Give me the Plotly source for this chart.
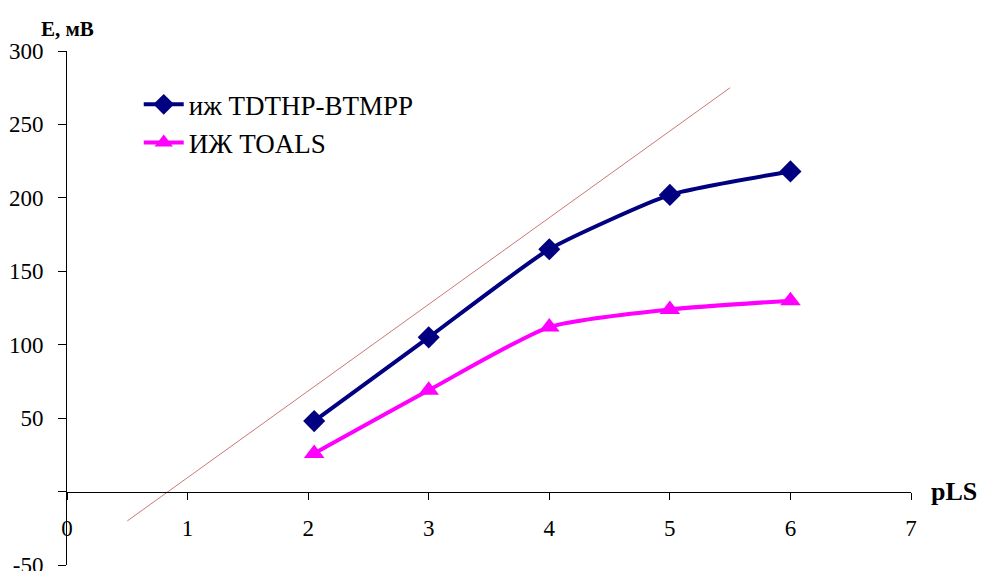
import plotly.graph_objects as go

# Data
pls_a = [2.05, 3, 4, 5, 6]
e_a = [48, 105, 165, 202, 218]
name_a = "иж TDTHP-BTMPP"

pls_b = [2.05, 3, 4, 5, 6]
e_b = [26, 69, 112, 124, 130]
name_b = "ИЖ TOALS"

ref_x = [0.5, 5.5]
ref_y = [-20, 275]

x_ticks = [0, 1, 2, 3, 4, 5, 6, 7]
y_ticks = [-50, 0, 50, 100, 150, 200, 250, 300]
y_ticktext = ["-50", "", "50", "100", "150", "200", "250", "300"]

FONT = "Liberation Serif"

fig = go.Figure()
fig.add_trace(go.Scatter(x=ref_x, y=ref_y, mode="lines",
                         line=dict(color="#C87878", width=1),
                         showlegend=False, hoverinfo="skip"))
fig.add_trace(go.Scatter(x=pls_a, y=e_a, mode="lines+markers", name=name_a,
                         legendgroup="a",
                         line=dict(color="#000080", width=4, shape="spline", smoothing=0.5),
                         marker=dict(symbol="diamond", size=17, color="#000080")))
fig.add_trace(go.Scatter(x=pls_b, y=e_b, mode="lines+markers", name=name_b,
                         legendgroup="b",
                         line=dict(color="#FF00FF", width=4, shape="spline", smoothing=0.6),
                         marker=dict(symbol="triangle-up", size=18, color="#FF00FF")))

fig.update_layout(
    width=987, height=571,
    margin=dict(l=67, r=76, t=51, b=6, autoexpand=False),
    paper_bgcolor="white", plot_bgcolor="white",
    font=dict(family=FONT, size=23, color="black"),
    showlegend=True,
    legend=dict(x=0.085, y=0.943, xanchor="left", yanchor="top",
                bgcolor="rgba(0,0,0,0)", font=dict(family=FONT, size=27),
                tracegroupgap=0, itemwidth=40),
    xaxis=dict(range=[0, 7], tickvals=x_ticks, showgrid=False, zeroline=False,
               showline=True, linecolor="black", linewidth=1,
               ticks="outside", ticklen=7, tickcolor="black",
               anchor="free", position=50 / 350, ticklabelstandoff=9,
               automargin=False,
               tickfont=dict(family=FONT, size=23)),
    yaxis=dict(range=[-50, 300], tickvals=y_ticks, ticktext=y_ticktext,
               showgrid=False, zeroline=False, automargin=False,
               showline=True, linecolor="black", linewidth=1,
               ticks="outside", ticklen=8, tickcolor="black",
               ticklabelstandoff=10, ticklabeloverflow="allow",
               tickfont=dict(family=FONT, size=23)),
    annotations=[
        dict(text="<b>E, мВ</b>", xref="paper", yref="paper", x=-0.033, y=1.0,
             xanchor="left", yanchor="bottom", yshift=8, showarrow=False,
             font=dict(family=FONT, size=21)),
        dict(text="<b>pLS</b>", xref="paper", yref="y", x=1.0, y=0,
             xanchor="left", yanchor="middle", xshift=18, showarrow=False,
             font=dict(family=FONT, size=26)),
    ],
)

fig.write_html("out.html", config={"displayModeBar": False},
               post_script="document.body.style.margin='0';")
